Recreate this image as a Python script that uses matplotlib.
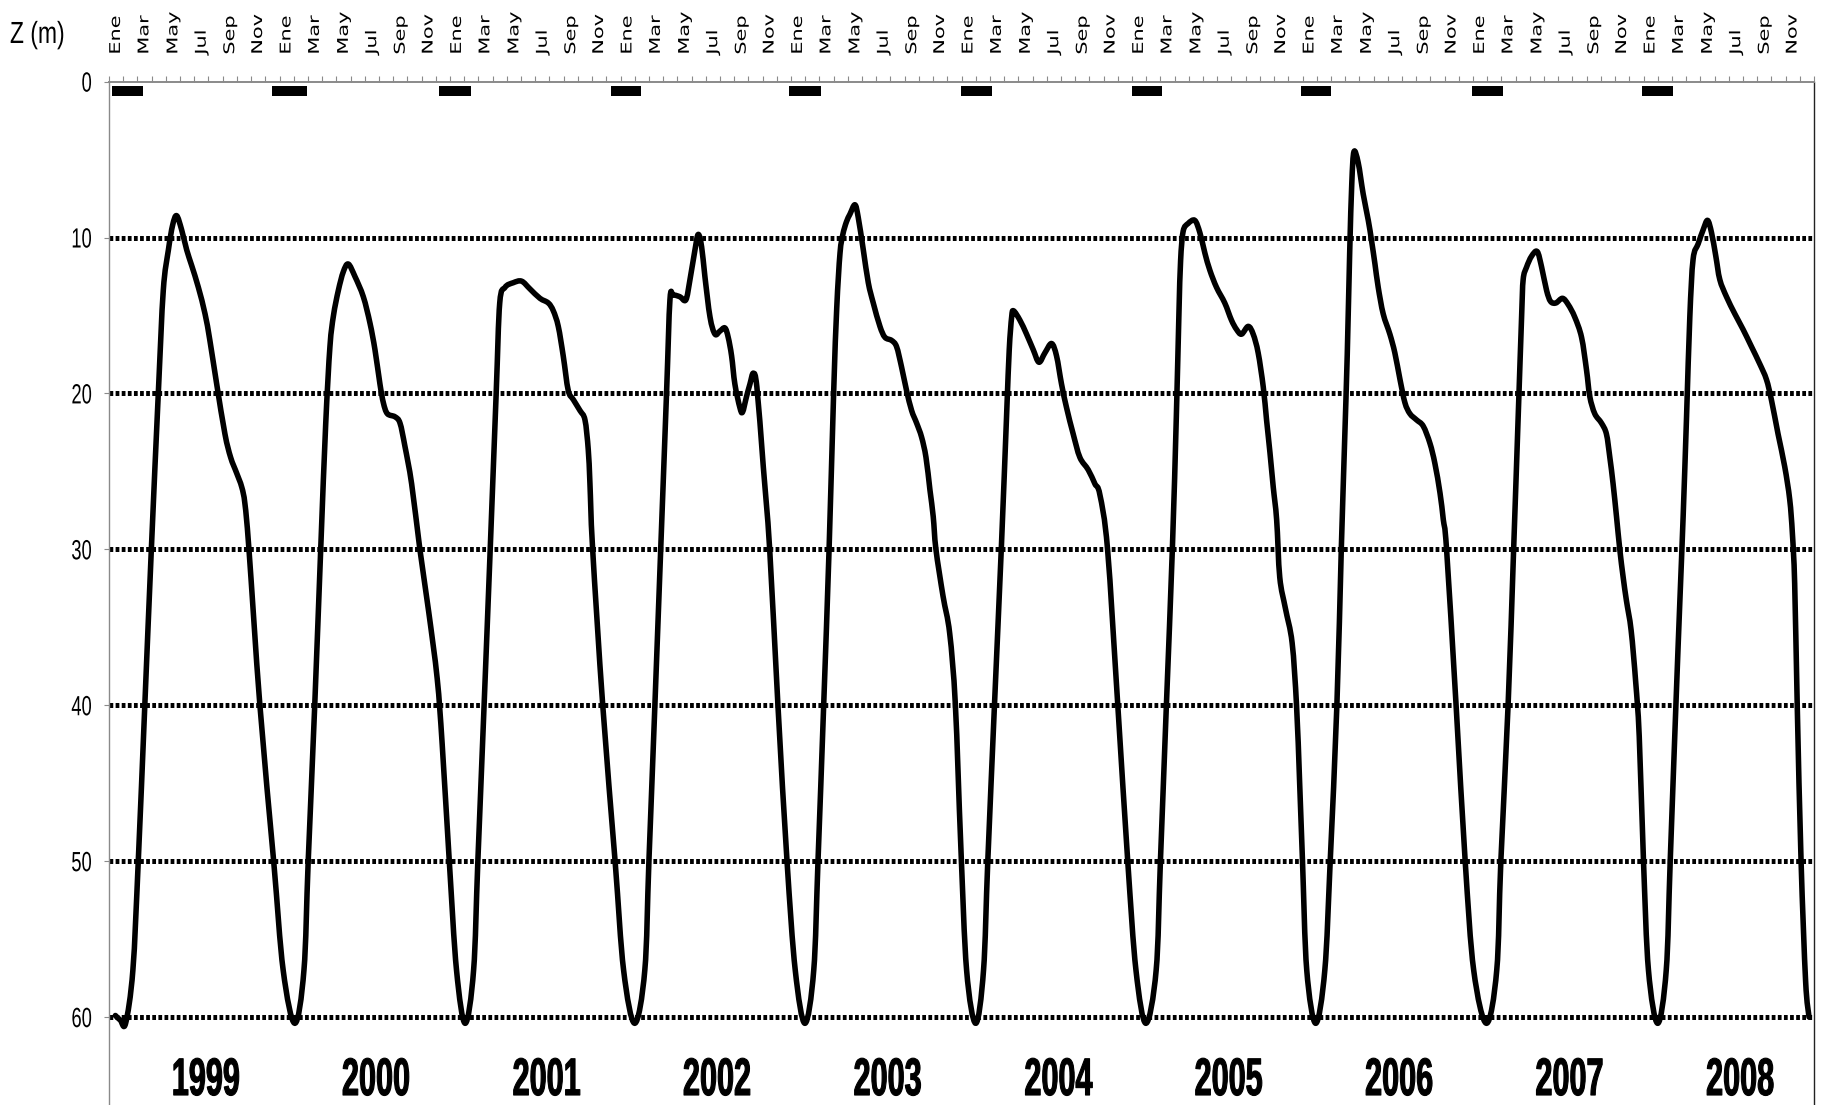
import numpy as np
import matplotlib
matplotlib.use("Agg")
import matplotlib.pyplot as plt
from matplotlib import font_manager
from matplotlib.path import Path
from matplotlib.patches import PathPatch
from matplotlib.patheffects import AbstractPathEffect
from matplotlib.ticker import NullFormatter
from matplotlib.transforms import Affine2D

plt.rcParams["lines.scale_dashes"] = False

# Mixed-layer / thermocline depth, time in months since 1 Jan 1999
t_month = [
    # 1999
    0.45, 0.80, 1.17, 1.68, 2.06, 2.52, 2.98, 3.47, 3.82, 4.18, 4.48, 4.76, 5.11, 5.47, 5.82, 6.29, 6.76, 7.10,
    7.58, 8.16, 8.56, 8.98, 9.34, 9.57, 9.85, 10.62, 11.59, 12.26, 13.08,
    # 2000
    13.72, 14.02, 14.48, 14.90, 15.25, 15.55, 15.80, 16.14, 16.49, 16.84, 17.31, 17.90, 18.37, 18.72, 19.07,
    19.31, 19.59, 20.13, 20.48, 20.83, 21.30, 21.88, 22.50, 23.10, 23.45, 23.95, 24.46, 25.07,
    # 2001
    25.66, 25.96, 26.40, 26.83, 27.25, 27.50, 27.87, 28.45, 29.04, 29.63, 30.33, 30.92, 31.27, 31.62, 31.97,
    32.32, 32.68, 33.15, 33.50, 33.73, 33.85, 34.04, 34.75, 35.62, 36.22, 37.00,
    # 2002
    37.71, 38.00, 38.42, 38.83, 39.24, 39.48, 39.71, 40.18, 40.60, 40.89, 41.24, 41.47, 41.71, 41.94, 42.30,
    42.65, 43.00, 43.35, 43.58, 43.82, 44.05, 44.40, 44.59, 44.87, 45.11, 45.35, 45.60, 46.05, 46.50, 47.08,
    47.72, 48.30, 48.98,
    # 2003
    49.60, 49.90, 50.30, 50.68, 51.00, 51.22, 51.45, 51.65, 51.90, 52.15, 52.50, 52.73, 53.09, 53.44, 53.79,
    54.26, 54.61, 55.08, 55.43, 55.78, 56.13, 56.49, 56.84, 57.19, 57.50, 57.78, 58.01, 58.20, 58.70, 59.17,
    59.57, 59.95, 60.36, 61.00,
    # 2004
    61.55, 61.85, 62.32, 62.80, 63.17, 63.36, 63.53, 63.66, 64.11, 64.58, 65.05, 65.45, 65.87, 66.34, 66.69,
    67.04, 67.39, 67.86, 68.33, 68.92, 69.39, 69.74, 70.28, 71.00, 71.70, 72.28, 72.98,
    # 2005
    73.70, 74.00, 74.42, 74.84, 75.12, 75.30, 75.42, 75.60, 75.95, 76.42, 76.78, 77.13, 77.48, 77.95, 78.53,
    79.00, 79.36, 79.71, 80.18, 80.53, 80.88, 81.24, 81.47, 81.71, 81.94, 82.18, 82.40, 82.80, 83.27, 83.58,
    83.80, 84.00, 84.30, 84.93,
    # 2006
    85.57, 85.95, 86.42, 86.73, 86.95, 87.15, 87.32, 87.47, 87.62, 87.92, 88.27, 88.63, 88.86, 89.10, 89.33,
    89.68, 90.15, 90.50, 90.86, 91.21, 91.56, 92.03, 92.50, 92.97, 93.32, 93.68, 93.91, 94.14, 94.81, 95.45,
    96.05, 96.95,
    # 2007
    97.67, 97.96, 98.47, 98.86, 99.18, 99.42, 99.53, 99.77, 100.12, 100.52, 100.83, 101.18, 101.46, 101.83,
    102.30, 102.70, 103.16, 103.64, 103.99, 104.22, 104.57, 105.04, 105.39, 105.63, 105.86, 106.10, 106.33,
    106.57, 106.80, 107.13, 107.45, 107.70, 108.00, 108.35, 109.00,
    # 2008
    109.60, 109.88, 110.28, 110.56, 110.79, 111.03, 111.26, 111.49, 111.85, 112.20, 112.51, 112.79, 113.09,
    113.37, 113.84, 114.43, 115.01, 115.60, 116.18, 116.65, 117.00, 117.47, 117.94, 118.29, 118.48, 118.64,
    118.82, 119.09, 119.41, 119.65,
]
z_depth = [
    # 1999
    59.9, 60.2, 60.4, 57.0, 50.0, 40.0, 30.0, 20.0, 13.4, 10.8, 9.2, 8.6, 9.5, 10.8, 11.8, 13.2, 14.9, 16.6,
    19.4, 22.6, 24.1, 25.1, 26.0, 27.1, 30.0, 40.0, 50.0, 57.0, 60.4,
    # 2000
    57.0, 50.0, 40.0, 30.0, 22.0, 17.0, 15.0, 13.4, 12.2, 11.7, 12.5, 13.8, 15.5, 17.2, 19.4,
    20.6, 21.3, 21.5, 21.9, 23.4, 25.8, 30.0, 34.0, 38.3, 42.5, 50.0, 57.0, 60.4,
    # 2001
    57.0, 50.0, 40.0, 30.0, 20.0, 14.2, 13.2, 12.9, 12.8, 13.3, 13.9, 14.2, 14.7, 15.7, 17.6,
    19.8, 20.4, 21.1, 21.7, 23.6, 25.8, 30.0, 40.0, 50.0, 57.0, 60.4,
    # 2002
    57.0, 50.0, 40.0, 30.0, 20.0, 14.0, 13.7, 13.8, 14.0, 12.7, 10.8, 9.8, 10.6, 12.5, 15.1,
    16.2, 16.0, 15.8, 16.4, 17.6, 19.4, 20.9, 21.2, 20.2, 19.4, 18.7, 19.6, 24.7, 30.0, 40.0,
    50.0, 57.0, 60.4,
    # 2003
    57.0, 50.0, 40.0, 30.0, 20.0, 14.5, 11.0, 9.8, 9.0, 8.5, 7.9, 8.7, 10.8, 12.9, 14.2,
    15.7, 16.4, 16.6, 17.0, 18.3, 19.8, 21.1, 21.9, 22.8, 24.1, 26.2, 27.9, 30.0, 33.0, 35.4,
    40.0, 49.0, 57.0, 60.4,
    # 2004
    57.0, 50.0, 40.0, 30.0, 21.5, 17.2, 15.1, 14.7, 15.3, 16.2, 17.2, 18.0, 17.4, 16.8, 17.6,
    19.4, 20.9, 22.6, 24.1, 24.9, 25.8, 26.5, 30.0, 40.0, 50.0, 57.0, 60.4,
    # 2005
    57.0, 50.0, 40.0, 30.0, 21.5, 15.0, 11.5, 9.6, 9.1, 8.9, 9.7, 11.0, 12.1, 13.2, 14.2,
    15.3, 15.9, 16.2, 15.7, 16.2, 17.4, 19.6, 21.7, 23.8, 26.0, 28.1, 31.8, 33.8, 36.0, 40.0,
    45.0, 50.0, 57.0, 60.4,
    # 2006
    57.0, 50.0, 40.0, 30.0, 23.5, 17.5, 11.0, 6.5, 4.5, 5.2, 7.2, 8.9, 10.2, 11.7, 13.2,
    14.9, 16.2, 17.4, 19.1, 20.6, 21.3, 21.7, 22.1, 23.2, 24.5, 26.4, 28.1, 30.0, 40.0, 50.0,
    57.0, 60.4,
    # 2007
    57.0, 50.0, 40.0, 30.0, 21.5, 15.1, 12.7, 11.9, 11.2, 10.9, 11.9, 13.4, 14.1, 14.2,
    13.9, 14.3, 15.1, 16.4, 18.5, 20.2, 21.3, 21.9, 22.6, 24.1, 25.8, 27.9, 30.0,
    31.8, 33.3, 35.2, 38.5, 42.0, 50.0, 57.0, 60.4,
    # 2008
    57.0, 50.0, 40.0, 33.3, 27.9, 21.5, 15.1, 11.4, 10.4, 9.5, 8.9, 9.7, 11.2,
    12.7, 13.8, 14.9, 15.9, 17.0, 18.1, 19.1, 20.4, 22.6, 24.7, 26.8, 29.0, 32.2,
    40.0, 50.0, 57.7, 60.0,
]

# Winter mixing periods (black bars under the time axis), months since 1 Jan 1999
mix_start = [0.19, 11.45, 23.26, 35.30, 47.87, 59.93, 71.99, 83.90, 95.90, 107.90]
mix_end = [2.41, 13.91, 25.47, 37.46, 50.09, 62.15, 74.13, 86.03, 98.12, 110.10]

years = [1999, 2000, 2001, 2002, 2003, 2004, 2005, 2006, 2007, 2008]
month_names = ["Ene", "Mar", "May", "Jul", "Sep", "Nov"]
depth_ticks = [0, 10, 20, 30, 40, 50, 60]
grid_depths = [10, 20, 30, 40, 50, 60]


class SqueezeX(AbstractPathEffect):
    """Narrows rendered glyphs horizontally about an anchor of the text box,
    optionally thickening them with an outline of the fill colour."""

    def __init__(self, factor, anchor="center", stroke=0.0):
        super().__init__()
        self.factor = factor
        self.anchor = anchor
        self.stroke = stroke

    def draw_path(self, renderer, gc, tpath, affine, rgbFace=None):
        ext = affine.transform_path(tpath).get_extents()
        if self.anchor == "right":
            x0 = ext.x1
        elif self.anchor == "left":
            x0 = ext.x0
        else:
            x0 = 0.5 * (ext.x0 + ext.x1)
        squeeze = Affine2D().translate(-x0, 0).scale(self.factor, 1.0).translate(x0, 0)
        trans = affine + squeeze
        if self.stroke and rgbFace is not None:
            gc0 = renderer.new_gc()
            gc0.copy_properties(gc)
            gc0.set_linewidth(self.stroke)
            gc0.set_foreground(rgbFace)
            gc0.set_joinstyle("round")
            renderer.draw_path(gc0, tpath, trans, rgbFace)
            gc0.restore()
        else:
            renderer.draw_path(gc, tpath, trans, rgbFace)


def smooth_path(x, y):
    """Cubic Bezier path through the points (Catmull-Rom tangents)."""
    p = np.column_stack([x, y]).astype(float)
    n = len(p)
    verts = [p[0]]
    codes = [Path.MOVETO]
    for i in range(n - 1):
        a = p[max(i - 1, 0)]
        b = p[i]
        c = p[i + 1]
        d = p[min(i + 2, n - 1)]
        verts += [b + (c - a) / 6.0, c - (d - b) / 6.0, c]
        codes += [Path.CURVE4] * 3
    return Path(verts, codes)


installed = {f.name for f in font_manager.fontManager.ttflist}
if "Liberation Sans Narrow" in installed:
    num_family, year_squeeze, tick_squeeze = "Liberation Sans Narrow", 0.71, 0.80
else:
    num_family, year_squeeze, tick_squeeze = "Liberation Sans", 0.58, 0.66

W, H = 1827, 1105
fig = plt.figure(figsize=(W / 100, H / 100), dpi=100)
fig.patch.set_facecolor("white")
ax = fig.add_axes([109 / W, 0.0, (1814 - 109) / W, 1 - 81.6 / H])
ax.set_xlim(0, 120)
ax.set_ylim(65.64, 0)

axis_grey = "#8a8a8a"

# dotted depth grid
for g in grid_depths:
    ax.axhline(g, color="black", lw=3.6, linestyle=(0, (2.7, 1.7)), zorder=2)

# mixing periods
ax.broken_barh([(s, e - s) for s, e in zip(mix_start, mix_end)], (0.3, 0.63),
               facecolors="black", edgecolor="none", zorder=3)

# depth series
ax.add_patch(PathPatch(smooth_path(t_month, z_depth), fill=False, lw=4.0,
                       edgecolor="black", capstyle="round", joinstyle="round", zorder=4))

# time axis on top: a tick every month, labels every second month
ax.xaxis.set_ticks_position("top")
ax.set_xticks(np.arange(0, 121))
ax.xaxis.set_major_formatter(NullFormatter())
month_pos = [12 * k + 2 * i + 0.5 for k in range(len(years)) for i in range(len(month_names))]
ax.set_xticks(month_pos, labels=month_names * len(years), minor=True, rotation=90,
              fontsize=15, family="DejaVu Sans", path_effects=[SqueezeX(0.71)])
ax.tick_params(axis="x", which="major", top=True, bottom=False, labeltop=False,
               labelbottom=False, direction="out", length=4.3, width=0.8, color=axis_grey)
ax.tick_params(axis="x", which="minor", top=True, bottom=False, labeltop=True,
               labelbottom=False, length=0, pad=19.4, labelcolor="black")

# depth axis
ax.set_yticks(depth_ticks, labels=[str(v) for v in depth_ticks], fontsize=20,
              family=num_family, path_effects=[SqueezeX(tick_squeeze, "right")])
ax.tick_params(axis="y", which="major", direction="out", length=3.6, width=0.8,
               color=axis_grey, pad=8.5, labelcolor="black")

ax.spines["bottom"].set_visible(False)
ax.spines["left"].set_color(axis_grey)
ax.spines["left"].set_linewidth(1.0)
ax.spines["top"].set_color(axis_grey)
ax.spines["top"].set_linewidth(1.4)
ax.spines["right"].set_color("#222222")
ax.spines["right"].set_linewidth(1.0)

# year labels
for k, yr in enumerate(years):
    ax.text(12 * k + 6.8, 65.0, str(yr), ha="center", va="baseline", fontsize=38,
            fontweight="bold", family=num_family,
            path_effects=[SqueezeX(year_squeeze, stroke=0.8)], zorder=5)

fig.text(37.5 / W, 1 - 35 / H, "Z (m)", ha="center", va="center", fontsize=22,
         family="Liberation Sans", path_effects=[SqueezeX(0.75)])

fig.savefig("out.png", dpi=100, facecolor="white")
